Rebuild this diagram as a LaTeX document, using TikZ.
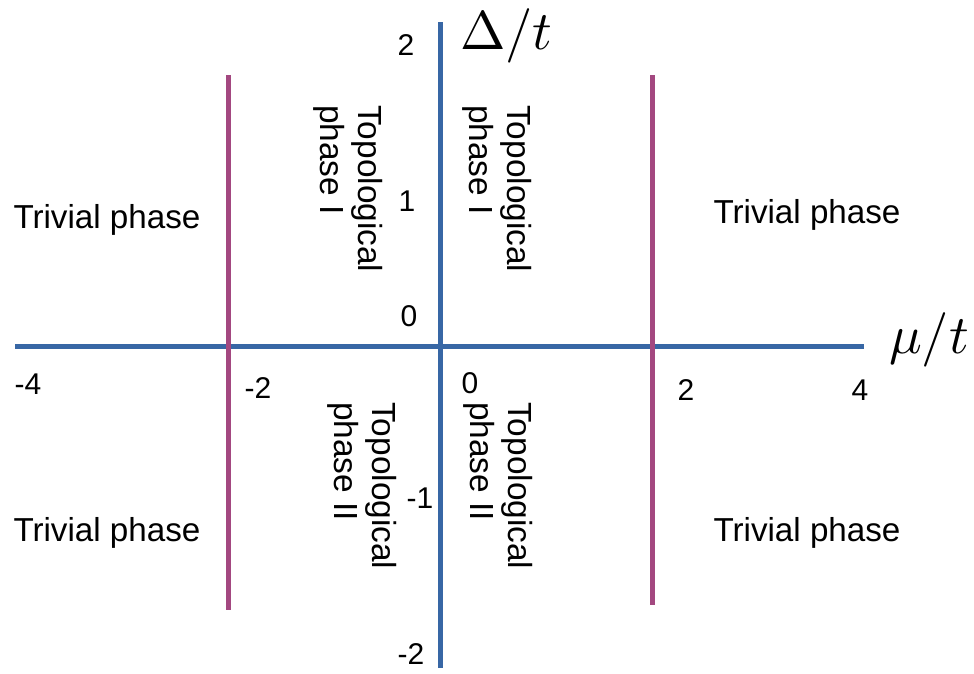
\documentclass[tikz,border=0pt]{standalone}
\usepackage{fontspec}
\setmainfont{Liberation Sans}
\definecolor{axisblue}{RGB}{56,103,165}
\definecolor{gapmagenta}{RGB}{163,72,128}
\begin{document}
\begin{tikzpicture}[x=1pt,y=-1pt,
  axisline/.style={draw=axisblue,line width=5pt},
  boundary/.style={draw=gapmagenta,line width=5pt},
  tick/.style={inner sep=0pt,font=\fontsize{30}{35}\selectfont},
  phase/.style={inner sep=0pt,anchor=base,font=\fontsize{33.2}{39}\selectfont},
  topo/.style={inner sep=0pt,anchor=north west,rotate=-90,align=left,font=\fontsize{33.4}{38}\selectfont},
  axislabel/.style={inner sep=0pt,anchor=base west,scale=5.45}]
\useasboundingbox (0,0) rectangle (974,673);
% axes
\coordinate (xl) at (15,346);
\coordinate (xr) at (864,346);
\coordinate (yt) at (440,22);
\coordinate (yb) at (440,668);
\draw[axisline] (xl) -- (xr);
\draw[axisline] (yt) -- (yb);
% phase boundaries
\coordinate (lt) at (228,75);
\coordinate (lb) at (228,610);
\coordinate (rt) at (652,75);
\coordinate (rb) at (652,605);
\draw[boundary] (lt) -- (lb);
\draw[boundary] (rt) -- (rb);
% axis labels
\node[axislabel] (ylab) at (459,49) {$\Delta/t$};
\node[axislabel] (xlab) at (888,353) {$\mu/t$};
% ticks on the vertical axis
\node[tick] (y2) at (406,45) {2};
\node[tick] (y1) at (407,201) {1};
\node[tick] (y0) at (409,316) {0};
\node[tick] (ym1) at (420,498) {-1};
\node[tick] (ym2) at (411,654) {-2};
% ticks on the horizontal axis
\node[tick] (xm4) at (28,384) {-4};
\node[tick] (xm2) at (258,388) {-2};
\node[tick] (x0) at (470,383) {0};
\node[tick] (x2) at (686,390) {2};
\node[tick] (x4) at (860,390) {4};
% trivial regions
\node[phase] (tul) at (107,228) {Trivial phase};
\node[phase] (tur) at (807,223) {Trivial phase};
\node[phase] (tll) at (107,541) {Trivial phase};
\node[phase] (tlr) at (807,541) {Trivial phase};
% topological regions
\node[topo] (pul) at (383,105) {Topological\\phase I};
\node[topo] (pur) at (532,105) {Topological\\phase I};
\node[topo] (pll) at (397,402) {Topological\\phase II};
\node[topo] (plr) at (533,402) {Topological\\phase II};
\end{tikzpicture}
\end{document}
